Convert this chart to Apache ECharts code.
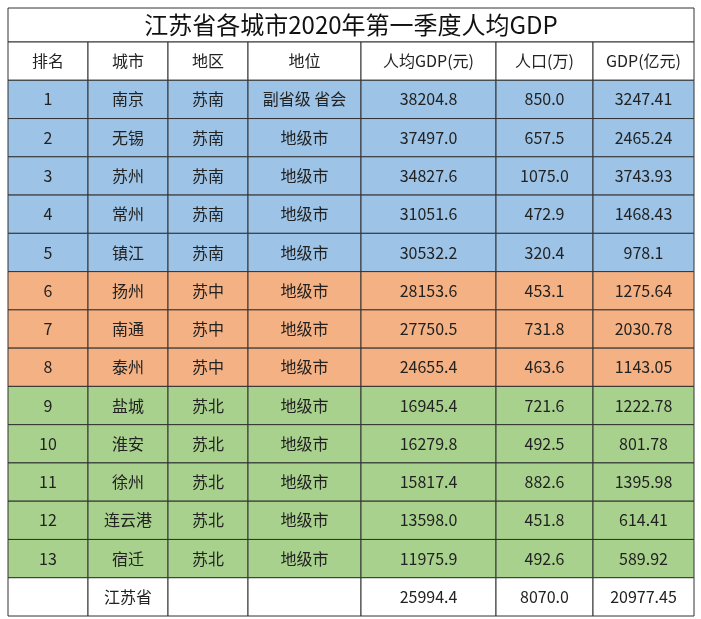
<!DOCTYPE html>
<html><head><meta charset="utf-8">
<script src="https://cdn.jsdelivr.net/npm/echarts@6/dist/echarts.min.js"></script>
<style>html,body{margin:0;padding:0;background:#fff}#c{width:701px;height:619px}</style>
</head><body><div id="c"></div>
<script>
const titleText = '江苏省各城市2020年第一季度人均GDP';
const headers = ['排名','城市','地区','地位','人均GDP(元)','人口(万)','GDP(亿元)'];
const ranks = ['1','2','3','4','5','6','7','8','9','10','11','12','13'];
const cities = ['南京','无锡','苏州','常州','镇江','扬州','南通','泰州','盐城','淮安','徐州','连云港','宿迁'];
const regions = ['苏南','苏南','苏南','苏南','苏南','苏中','苏中','苏中','苏北','苏北','苏北','苏北','苏北'];
const statuses = ['副省级 省会','地级市','地级市','地级市','地级市','地级市','地级市','地级市','地级市','地级市','地级市','地级市','地级市'];
const gdpPerCapita = ['38204.8','37497.0','34827.6','31051.6','30532.2','28153.6','27750.5','24655.4','16945.4','16279.8','15817.4','13598.0','11975.9'];
const population = ['850.0','657.5','1075.0','472.9','320.4','453.1','731.8','463.6','721.6','492.5','882.6','451.8','492.6'];
const gdp = ['3247.41','2465.24','3743.93','1468.43','978.1','1275.64','2030.78','1143.05','1222.78','801.78','1395.98','614.41','589.92'];
const totalRow = ['','江苏省','','','25994.4','8070.0','20977.45'];

const colEdges = [0,80,160,240,353,488,585,686];
const regionColor = {'苏南':'#9DC3E6','苏中':'#F4B183','苏北':'#A9D18E'};

const rows = [headers];
for (let i=0;i<ranks.length;i++) rows.push([ranks[i],cities[i],regions[i],statuses[i],gdpPerCapita[i],population[i],gdp[i]]);
rows.push(totalRow);
const data = [];
rows.forEach((r,ri)=>r.forEach((t,ci)=>data.push({value:[ci,ri],text:t,fill:(ri>0&&ri<=ranks.length)?regionColor[regions[ri-1]]:'#fff'})));

const chart = echarts.init(document.getElementById('c'));
chart.setOption({
  animation:false,
  graphic:[{type:'rect',shape:{x:8,y:8,width:686,height:34},style:{fill:'#fff',stroke:'#333',lineWidth:1}},
    {type:'text',x:351,y:25,style:{text:titleText,fill:'#111',font:'24px "Noto Sans CJK SC"',align:'center',verticalAlign:'middle'}}],
  grid:{left:8,right:7,top:42,bottom:3},
  xAxis:{type:'value',min:0,max:686,show:false},
  yAxis:{type:'category',inverse:true,data:rows.map((r,i)=>i),show:false},
  series:[{type:'custom',data:data,renderItem:function(params,api){
    const ci=api.value(0), ri=api.value(1);
    const d=data[params.dataIndex];
    const p0=api.coord([colEdges[ci],ri]);
    const p1=api.coord([colEdges[ci+1],ri]);
    const h=api.size([0,1])[1];
    return {type:'group',children:[
      {type:'rect',shape:{x:p0[0],y:p0[1]-h/2,width:p1[0]-p0[0],height:h},style:{fill:d.fill,stroke:'#333',lineWidth:1}},
      {type:'text',style:{x:(p0[0]+p1[0])/2,y:p0[1],text:d.text,align:'center',verticalAlign:'middle',fill:'#222',font:'16px "Noto Sans CJK SC"'}}
    ]};
  }}]
});
</script></body></html>
